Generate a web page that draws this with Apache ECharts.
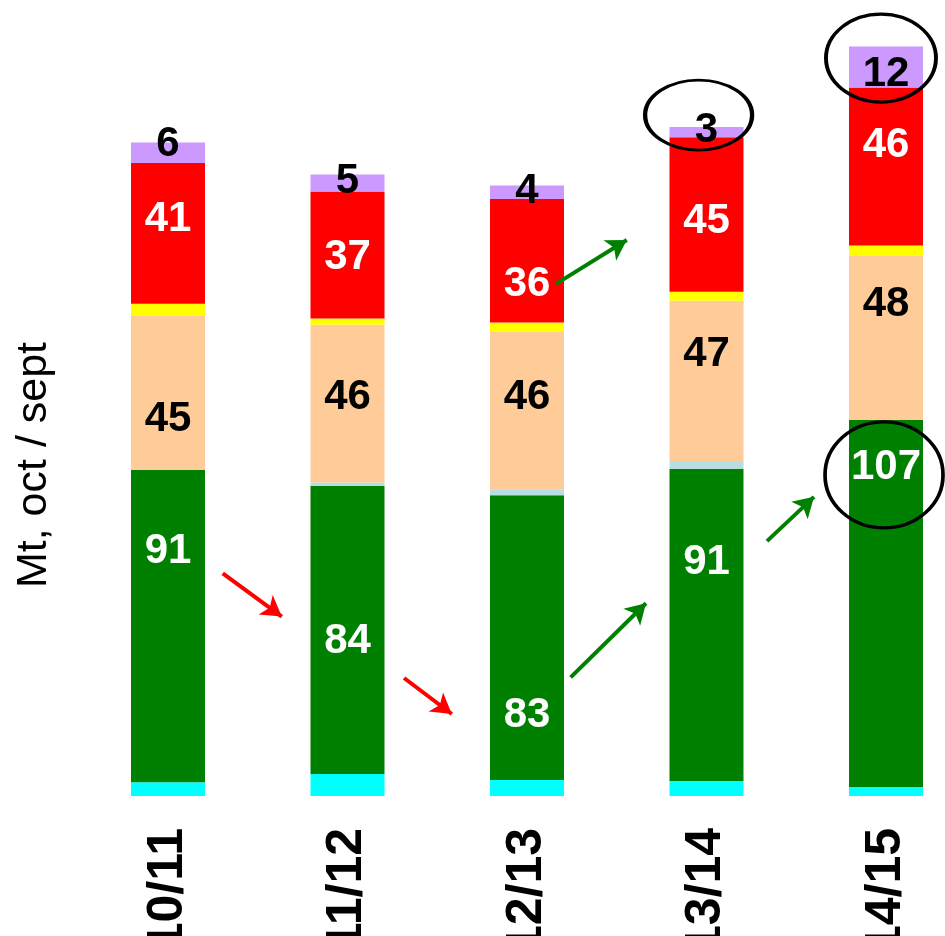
<!DOCTYPE html>
<html>
<head>
<meta charset="utf-8">
<script src="https://cdn.jsdelivr.net/npm/echarts@6/dist/echarts.min.js"></script>
<style>
html,body{margin:0;padding:0;background:#fff;}
#chart{width:945px;height:936px;}
</style>
</head>
<body>
<div id="chart"></div>
<script>
// ---- data ----
const categories = ['10/11', '11/12', '12/13', '13/14', '14/15'];
const cyanValues   = [4, 6.4, 4.7, 4.4, 2.6];
const greenValues  = [91, 84, 83, 91, 107];
const lightValues  = [0, 1, 1.7, 2, 0];
const peachValues  = [45, 46, 46, 47, 48];
const yellowValues = [3.5, 1.8, 2.6, 2.6, 2.9];
const redValues    = [41, 37, 36, 45, 46];
const purpleValues = [6, 5, 4, 3, 12];
const yAxisTitle = 'Mt, oct / sept';

// annotation arrows in data space [categoryPosition, value]
const redArrows = [
  [[0.305, 64.9], [0.634, 52.3]],
  [[1.315, 34.4], [1.581, 23.9]]
];
const greenArrows = [
  [[2.243, 34.6], [2.663, 56.2]],
  [[2.162, 149.3], [2.556, 162.1]],
  [[3.337, 74.3], [3.599, 87.2]]
];
// highlight ellipses centres in data space
const ellipseCentres = [[2.956, 198.5], [3.972, 215.1], [3.989, 93.6]];

// ---- layout (label nudges in px, ellipse sizes in px) ----
const greenLabelDy  = [-75, 11, 78, -62, -136];
const peachLabelDy  = [26, -6, -13, -27, -33];
const redLabelDy    = [-14, 2, 24, 7, -21];
const purpleLabelDy = [-8, -2, -1, -2, 7];
const ellipseSizes  = [[107, 70], [110, 88], [118, 106]];

const FONT = '"Liberation Sans", Arial, Helvetica, sans-serif';

function items(values, dys) {
  return values.map((v, i) => ({ value: v, label: { offset: [0, dys ? dys[i] : 0] } }));
}
function barSeries(name, values, color, labelColor, dys) {
  const s = {
    name, type: 'bar', stack: 'total', barWidth: 74,
    itemStyle: { color },
    data: items(values, dys),
    silent: true
  };
  if (labelColor) {
    s.label = {
      show: true, position: 'inside', formatter: '{c}',
      color: labelColor, fontSize: 42, fontWeight: 'bold', fontFamily: FONT
    };
  }
  return s;
}
function arrowSeries(arrows, color) {
  return {
    type: 'scatter', xAxisIndex: 1, yAxisIndex: 0, data: [], silent: true, z: 20,
    markLine: {
      silent: true, symbol: ['none', 'arrow'], symbolSize: [18, 20], animation: false,
      label: { show: false },
      lineStyle: { color, width: 4, type: 'solid' },
      emphasis: { disabled: true },
      data: arrows.map(a => [{ coord: a[0] }, { coord: a[1] }])
    }
  };
}

const chart = echarts.init(document.getElementById('chart'), null, { renderer: 'canvas' });
chart.setOption({
  animation: false,
  backgroundColor: '#fff',
  grid: { left: 78.25, right: -30.75, top: 7, bottom: 140, containLabel: false, outerBoundsMode: 'none' },
  xAxis: [
    {
      type: 'category', data: categories,
      axisLine: { show: false }, axisTick: { show: false },
      axisLabel: { rotate: 90, margin: 32, fontSize: 50, fontWeight: 'bold', color: '#000', fontFamily: FONT, interval: 0 }
    },
    { type: 'value', min: -0.5, max: 4.5, show: false }
  ],
  yAxis: { type: 'value', min: 0, max: 230, show: false },
  graphic: [{
    type: 'text', x: 34, y: 465, rotation: Math.PI / 2,
    style: { text: yAxisTitle, font: '43px ' + FONT, fill: '#000', align: 'center', verticalAlign: 'middle' }
  }],
  series: [
    barSeries('cyan', cyanValues, '#00FFFF'),
    barSeries('green', greenValues, '#008000', '#fff', greenLabelDy),
    barSeries('light', lightValues, '#B7DEE0'),
    barSeries('peach', peachValues, '#FFCC99', '#000', peachLabelDy),
    barSeries('yellow', yellowValues, '#FFFF00'),
    barSeries('red', redValues, '#FF0000', '#fff', redLabelDy),
    barSeries('purple', purpleValues, '#CC99FF', '#000', purpleLabelDy),
    arrowSeries(redArrows, '#FF0000'),
    arrowSeries(greenArrows, '#008000'),
    {
      type: 'scatter', xAxisIndex: 1, yAxisIndex: 0, data: [], silent: true, z: 30,
      markPoint: {
        silent: true, animation: false, symbol: 'circle',
        label: { show: false },
        itemStyle: { color: 'rgba(0,0,0,0)', borderColor: '#000', borderWidth: 3.5 },
        data: ellipseCentres.map((c, i) => ({ coord: c, symbolSize: ellipseSizes[i] }))
      }
    }
  ]
});
</script>
</body>
</html>
